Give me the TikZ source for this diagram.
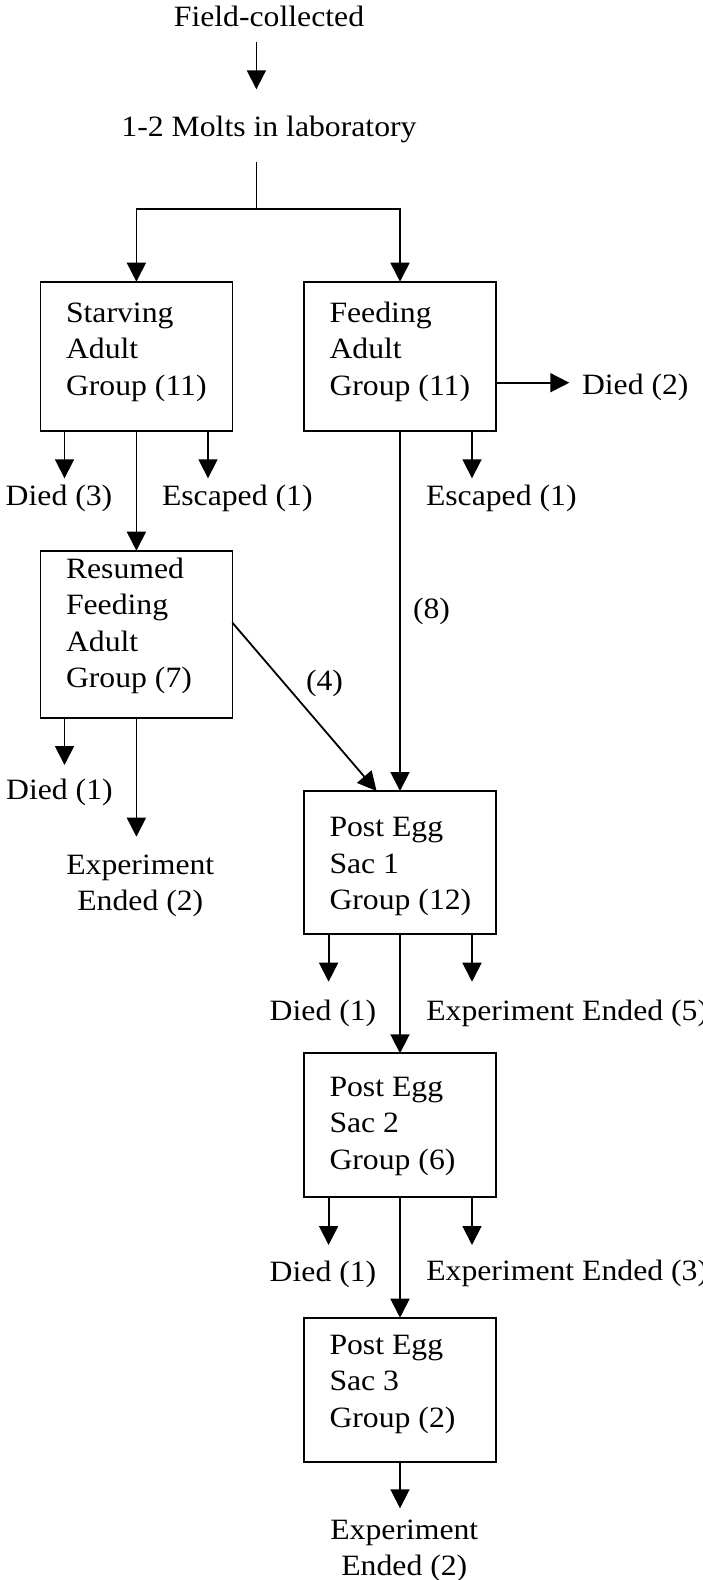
\documentclass[tikz,border=0pt]{standalone}
\usepackage{fontspec}
\setmainfont{Liberation Serif}[FakeStretch=1.075]
\usetikzlibrary{arrows.meta}
\newcommand\lstk[1]{\vtop{\halign{##\hfil\cr#1\crcr}}}
\newcommand\cstk[1]{\vtop{\halign{\hfil##\hfil\cr#1\crcr}}}
\begin{document}
\begin{tikzpicture}[x=1pt,y=-1pt,
  every node/.style={inner sep=0pt, outer sep=0pt, font=\fontsize{29.5}{36.5}\selectfont},
  box/.style={draw, rectangle, line width=1.8pt, minimum width=192pt},
  ln/.style={line width=1.8pt},
  arr/.style={line width=1.8pt, -{Triangle[length=19pt,width=19pt]}}]
\fill[white] (0,0) rectangle (703,1580);
\useasboundingbox (0,0) rectangle (703,1580);

% nodes
\node[anchor=base] (fc) at (269,26.7) {Field-collected};
\node[anchor=base] (ml) at (269,136.7) {1-2 Molts in laboratory};
\node[box, minimum height=149.3pt] (s) at (136.4,356.35) {};
\node[box, minimum height=149.3pt] (f) at (400,356.35) {};
\node[anchor=base west] (st) at (66,322.2) {\lstk{Starving\cr Adult\cr Group (11)}};
\node[anchor=base west] (ft) at (329.5,322.2) {\lstk{Feeding\cr Adult\cr Group (11)}};
\node[anchor=base west] (d2) at (582,394) {Died (2)};
\node[anchor=base] (d3) at (59,505) {Died (3)};
\node[anchor=base west] (e1) at (162,505) {Escaped (1)};
\node[anchor=base west] (e2) at (426,505) {Escaped (1)};
\node[box, minimum height=167.6pt] (r) at (136.4,634.5) {};
\node[anchor=base west] (rt) at (66,578.3) {\lstk{Resumed\cr Feeding\cr Adult\cr Group (7)}};
\node[anchor=base west] (n8) at (413,618.3) {(8)};
\node[anchor=base west] (n4) at (306,690.7) {(4)};
\node[anchor=base] (d1a) at (59.4,799.3) {Died (1)};
\node[anchor=base] (ee2) at (140.3,874.3) {\cstk{Experiment\cr Ended (2)}};
\node[box, minimum height=143.3pt] (p1) at (400,862.65) {};
\node[anchor=base west] (p1t) at (329.5,836.7) {\lstk{Post Egg\cr Sac 1\cr Group (12)}};
\node[anchor=base] (d1b) at (323,1020) {Died (1)};
\node[anchor=base west] (ee5) at (426.3,1020) {Experiment Ended (5)};
\node[box, minimum height=144pt] (p2) at (400,1125.3) {};
\node[anchor=base west] (p2t) at (329.5,1096) {\lstk{Post Egg\cr Sac 2\cr Group (6)}};
\node[anchor=base] (d1c) at (323,1281) {Died (1)};
\node[anchor=base west] (ee3) at (426.3,1280.5) {Experiment Ended (3)};
\node[box, minimum height=144pt] (p3) at (400,1389.7) {};
\node[anchor=base west] (p3t) at (329.5,1354) {\lstk{Post Egg\cr Sac 3\cr Group (2)}};
\node[anchor=base] (ee2b) at (404.3,1539.3) {\cstk{Experiment\cr Ended (2)}};

% coordinates
\coordinate (fcA) at (256.4,41.7);
\coordinate (fcB) at (256.4,89.3);
\coordinate (mlA) at (256.4,161.7);
\coordinate (sp) at (256.4,209.3);
\coordinate (sA) at (64.5,478.3);
\coordinate (sB) at (208,478.3);
\coordinate (fD) at (569.3,382.7);
\coordinate (fE) at (472,478.3);
\coordinate (rA) at (64.5,765);
\coordinate (rB) at (136.4,836.7);
\coordinate (pA) at (328.6,981.7);
\coordinate (pB) at (472,981.7);
\coordinate (qA) at (328.6,1245);
\coordinate (qB) at (472,1245);
\coordinate (tA) at (400,1508.3);

% connectors
\draw[arr] (fcA) -- (fcB);
\draw[ln] (mlA) -- (sp);
\draw[arr] (sp) -| (s.north);
\draw[arr] (sp) -| (f.north);
\draw[arr] (s.south -| sA) -- (sA);
\draw[arr] (s.south -| sB) -- (sB);
\draw[arr] (s) -- (r);
\draw[arr] (f.east |- fD) -- (fD);
\draw[arr] (f.south -| fE) -- (fE);
\draw[arr] (f) -- (p1);
\draw[arr] ([yshift=11.8pt]r.east) -- ([xshift=-23.4pt]p1.north);
\draw[arr] (r.south -| rA) -- (rA);
\draw[arr] (r) -- (rB);
\draw[arr] (p1.south -| pA) -- (pA);
\draw[arr] (p1.south -| pB) -- (pB);
\draw[arr] (p1) -- (p2);
\draw[arr] (p2.south -| qA) -- (qA);
\draw[arr] (p2.south -| qB) -- (qB);
\draw[arr] (p2) -- (p3);
\draw[arr] (p3) -- (tA);
\end{tikzpicture}
\end{document}
